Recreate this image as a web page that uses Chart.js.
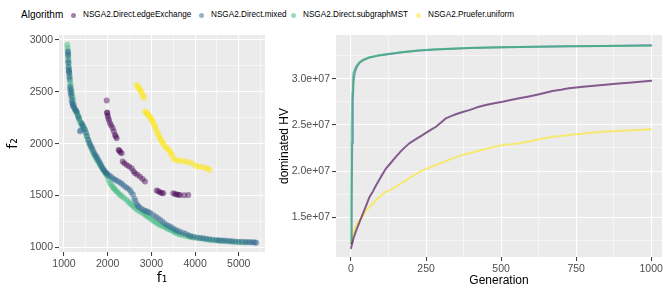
<!DOCTYPE html>
<html>
<head>
<meta charset="utf-8">
<script src="https://cdn.jsdelivr.net/npm/chart.js@4/dist/chart.umd.min.js"></script>
<style>
  body { margin: 0; background: #fff; width: 663px; height: 295px; overflow: hidden; position: relative; font-family: "Liberation Sans", Arial, sans-serif; }
  canvas { position: absolute; }
  .leg { position: absolute; top: 8px; height: 14px; line-height: 14px; white-space: nowrap; color: #000; }
  .legtitle { font-size: 10px; }
  .legtxt { font-size: 8.2px; }
  .dot { position: absolute; top: 12.5px; width: 5px; height: 5px; border-radius: 50%; }
</style>
</head>
<body>
<div class="leg legtitle" style="left:21px">Algorithm</div>
<div id="legend"></div>
<canvas id="front" width="272" height="267" style="left:0;top:28px"></canvas>
<canvas id="hv" width="391" height="267" style="left:272px;top:28px"></canvas>
<script>
// tên thuật toán (legend)
const algorithms = ["NSGA2.Direct.edgeExchange", "NSGA2.Direct.mixed", "NSGA2.Direct.subgraphMST", "NSGA2.Pruefer.uniform"];
const colors = ["68,1,84", "49,104,142", "53,183,121", "253,231,37"];

// mặt Pareto: f1 / f2 cho từng thuật toán
const edgeF1 = [1977, 1985, 1991, 2000, 2015, 2030, 2053, 2080, 2114, 2140, 2167, 2185, 2206, 2250, 2266, 2290, 2320, 2343, 2380, 2435, 2490, 2549, 2590, 2625, 2680, 2739, 2800, 2854, 3121, 3160, 3200, 3240, 3272, 3501, 3540, 3580, 3620, 3654, 3750, 3844];
const edgeF2 = [2416, 2300, 2295, 2270, 2247, 2225, 2198, 2175, 2150, 2120, 2085, 2070, 2053, 1940, 1933, 1918, 1908, 1827, 1810, 1795, 1780, 1763, 1735, 1715, 1700, 1682, 1660, 1634, 1547, 1540, 1530, 1525, 1522, 1522, 1515, 1510, 1508, 1505, 1503, 1505];

const mixedF1 = [1090, 1093, 1095, 1098, 1100, 1105, 1110, 1115, 1121, 1125, 1130, 1137, 1143, 1150, 1158, 1165, 1176, 1185, 1195, 1205, 1213, 1235, 1260, 1280, 1300, 1327, 1345, 1366, 1380, 1400, 1420, 1442, 1470, 1500, 1530, 1556, 1580, 1600, 1625, 1650, 1675, 1700, 1725, 1750, 1775, 1800, 1825, 1850, 1875, 1900, 1925, 1950, 1975, 2000, 2040, 2080, 2120, 2160, 2200, 2243, 2290, 2330, 2370, 2420, 2460, 2510, 2540, 2580, 2610, 2630, 2664, 2690, 2720, 2770, 2815, 2860, 2900, 2940, 2980, 3044, 3100, 3150, 3200, 3250, 3300, 3350, 3400, 3450, 3500, 3550, 3600, 3654, 3720, 3780, 3840, 3900, 3970, 4050, 4120, 4188, 4260, 4330, 4400, 4480, 4540, 4600, 4660, 4723, 4790, 4850, 4920, 5000, 5070, 5150, 5200, 5250, 5290, 5332, 5370, 5400];
const mixedF2 = [2890, 2870, 2850, 2800, 2778, 2740, 2710, 2695, 2681, 2650, 2620, 2552, 2525, 2500, 2480, 2460, 2423, 2400, 2385, 2370, 2358, 2345, 2330, 2315, 2300, 2262, 2240, 2117, 2130, 2200, 2185, 2165, 2140, 2110, 2075, 2037, 2010, 1990, 1970, 1950, 1925, 1900, 1885, 1870, 1850, 1830, 1810, 1790, 1770, 1750, 1738, 1725, 1715, 1705, 1690, 1680, 1665, 1655, 1645, 1634, 1622, 1610, 1595, 1580, 1568, 1554, 1530, 1510, 1470, 1450, 1420, 1400, 1390, 1375, 1360, 1352, 1345, 1338, 1330, 1312, 1295, 1280, 1265, 1250, 1232, 1215, 1205, 1195, 1182, 1170, 1160, 1150, 1140, 1130, 1120, 1110, 1102, 1095, 1090, 1087, 1082, 1078, 1074, 1070, 1068, 1066, 1065, 1064, 1060, 1058, 1056, 1055, 1053, 1052, 1051, 1050, 1049, 1048, 1046, 1044];

const mstF1 = [1076, 1082, 1090, 1095, 1100, 1105, 1110, 1115, 1120, 1130, 1140, 1150, 1160, 1172, 1185, 1198, 1213, 1232, 1252, 1270, 1290, 1310, 1330, 1350, 1370, 1395, 1420, 1450, 1481, 1500, 1519, 1550, 1580, 1610, 1640, 1670, 1700, 1730, 1760, 1790, 1820, 1850, 1880, 1910, 1940, 1970, 2000, 2025, 2053, 2090, 2120, 2150, 2180, 2215, 2250, 2290, 2330, 2380, 2435, 2480, 2520, 2560, 2600, 2650, 2700, 2760, 2815, 2860, 2900, 2950, 3000, 3050, 3100, 3150, 3197, 3250, 3300, 3350, 3400, 3450, 3500, 3540, 3579, 3640, 3700, 3780, 3850, 3900, 3950, 4030, 4112, 4180, 4250, 4320, 4400, 4480, 4550, 4620, 4700, 4780, 4850, 4920, 5000, 5080, 5150];
const mstF2 = [2955, 2920, 2890, 2850, 2820, 2780, 2740, 2710, 2680, 2640, 2600, 2570, 2540, 2515, 2488, 2450, 2420, 2375, 2327, 2315, 2300, 2280, 2260, 2235, 2210, 2190, 2170, 2150, 2133, 2100, 2069, 2035, 2000, 1970, 1940, 1912, 1885, 1862, 1840, 1820, 1800, 1780, 1760, 1740, 1720, 1700, 1680, 1650, 1618, 1598, 1580, 1565, 1550, 1535, 1520, 1505, 1490, 1475, 1457, 1438, 1420, 1405, 1390, 1372, 1355, 1340, 1328, 1315, 1300, 1285, 1270, 1255, 1240, 1228, 1215, 1205, 1195, 1185, 1175, 1165, 1155, 1145, 1135, 1125, 1118, 1110, 1105, 1100, 1095, 1091, 1087, 1082, 1078, 1074, 1070, 1067, 1064, 1061, 1058, 1056, 1054, 1052, 1050, 1048, 1047];

const prueF1 = [2664, 2680, 2700, 2720, 2739, 2760, 2780, 2800, 2815, 2830, 2854, 2870, 2890, 2910, 2930, 2950, 2970, 2990, 3007, 3025, 3045, 3065, 3083, 3100, 3120, 3140, 3158, 3180, 3200, 3220, 3236, 3260, 3280, 3311, 3340, 3370, 3400, 3426, 3450, 3470, 3501, 3540, 3580, 3630, 3693, 3750, 3800, 3860, 3922, 3980, 4036, 4090, 4150, 4210, 4264, 4300, 4341];
const prueF2 = [2568, 2555, 2545, 2530, 2520, 2505, 2490, 2470, 2455, 2440, 2310, 2302, 2295, 2285, 2278, 2265, 2255, 2242, 2230, 2215, 2200, 2183, 2165, 2145, 2125, 2105, 2085, 2068, 2050, 2035, 2020, 2008, 1995, 1972, 1960, 1950, 1937, 1924, 1905, 1890, 1860, 1848, 1840, 1836, 1834, 1830, 1825, 1820, 1812, 1800, 1779, 1778, 1775, 1770, 1763, 1755, 1747];

// hypervolume theo thế hệ
const edgeGen = [0, 8, 18, 30, 40, 52, 62, 73, 84, 100, 117, 133, 150, 172, 194, 216, 238, 260, 283, 300, 316, 333, 349, 372, 394, 420, 449, 477, 505, 532, 560, 588, 616, 644, 671, 699, 726, 782, 838, 882, 926, 963, 1000];
const edgeHV = [1.164e7, 1.27e7, 1.363e7, 1.46e7, 1.543e7, 1.64e7, 1.723e7, 1.78e7, 1.85e7, 1.94e7, 2.03e7, 2.09e7, 2.156e7, 2.235e7, 2.30e7, 2.345e7, 2.39e7, 2.435e7, 2.48e7, 2.525e7, 2.571e7, 2.595e7, 2.615e7, 2.64e7, 2.66e7, 2.69e7, 2.715e7, 2.735e7, 2.751e7, 2.77e7, 2.788e7, 2.805e7, 2.824e7, 2.845e7, 2.867e7, 2.88e7, 2.896e7, 2.915e7, 2.932e7, 2.945e7, 2.957e7, 2.968e7, 2.978e7];

const mixedGen = [0, 2, 4, 6, 8, 12, 18, 28, 40, 62, 90, 117, 172, 230, 283, 394, 505, 616, 727, 838, 1000];
const mixedHV = [1.22e7, 1.6e7, 2.3e7, 2.75e7, 2.95e7, 3.06e7, 3.12e7, 3.17e7, 3.20e7, 3.23e7, 3.25e7, 3.262e7, 3.287e7, 3.305e7, 3.316e7, 3.331e7, 3.34e7, 3.346e7, 3.35e7, 3.355e7, 3.362e7];

const mstGen = [0, 1, 2, 4, 6, 8, 12, 18, 28, 40, 62, 90, 117, 172, 230, 283, 394, 505, 616, 727, 838, 1000];
const mstHV = [1.254e7, 1.5e7, 2.4e7, 2.85e7, 3.0e7, 3.06e7, 3.1e7, 3.14e7, 3.18e7, 3.205e7, 3.232e7, 3.252e7, 3.265e7, 3.29e7, 3.307e7, 3.318e7, 3.332e7, 3.34e7, 3.346e7, 3.35e7, 3.354e7, 3.357e7];

const prueGen = [0, 6, 13, 20, 30, 40, 52, 67, 84, 100, 117, 133, 150, 167, 183, 205, 227, 255, 283, 310, 338, 366, 394, 420, 449, 477, 505, 532, 560, 588, 616, 644, 671, 699, 726, 782, 838, 920, 1000];
const prueHV = [1.22e7, 1.31e7, 1.381e7, 1.43e7, 1.47e7, 1.52e7, 1.579e7, 1.63e7, 1.687e7, 1.735e7, 1.777e7, 1.8e7, 1.831e7, 1.87e7, 1.90e7, 1.945e7, 1.99e7, 2.03e7, 2.066e7, 2.1e7, 2.138e7, 2.17e7, 2.193e7, 2.215e7, 2.24e7, 2.262e7, 2.283e7, 2.29e7, 2.30e7, 2.318e7, 2.336e7, 2.355e7, 2.372e7, 2.38e7, 2.39e7, 2.41e7, 2.427e7, 2.44e7, 2.452e7];

// legend vẽ bằng HTML
const legendX = [73, 201, 293, 418];
const legendEl = document.getElementById("legend");
algorithms.forEach((name, i) => {
  const d = document.createElement("div");
  d.className = "dot";
  d.style.left = (legendX[i] - 2.5) + "px";
  d.style.background = "rgba(" + colors[i] + ",0.5)";
  legendEl.appendChild(d);
  const t = document.createElement("div");
  t.className = "leg legtxt";
  t.style.left = (legendX[i] + 10) + "px";
  t.textContent = name;
  legendEl.appendChild(t);
});

// nền xám cho vùng vẽ (giống ggplot)
const panelBg = {
  id: "panelBg",
  beforeDraw(chart) {
    const { ctx, chartArea: a } = chart;
    ctx.save();
    ctx.fillStyle = "#EBEBEB";
    ctx.fillRect(a.left, a.top, a.right - a.left, a.bottom - a.top);
    ctx.restore();
  },
};

const tickFont = { family: "Liberation Sans, Arial", size: 10.5 };
const titleFont = { family: "Liberation Sans, Arial", size: 12 };
const fFont = { family: "DejaVu Sans, Liberation Sans", size: 14 };

// trục kiểu ggplot: lưới chính + lưới phụ
function ggAxis(min, max, step, fmt, extra) {
  const isMajor = (v) => Math.abs(v / step - Math.round(v / step)) < 1e-6;
  return Object.assign({
    type: "linear",
    min: min,
    max: max,
    afterBuildTicks(scale) {
      const ticks = [];
      const half = step / 2;
      for (let v = Math.ceil(min / half) * half; v <= max; v += half) ticks.push({ value: v });
      scale.ticks = ticks;
    },
    ticks: {
      autoSkip: false,
      maxRotation: 0,
      color: "#4D4D4D",
      font: tickFont,
      padding: 2,
      callback: (v) => (isMajor(v) ? fmt(v) : ""),
    },
    grid: {
      color: "#FFFFFF",
      lineWidth: (c) => (c.tick && isMajor(c.tick.value) ? 1.1 : 0.5),
      tickLength: 4,
      tickWidth: 1,
      tickColor: (c) => (c.tick && isMajor(c.tick.value) ? "#333333" : "rgba(0,0,0,0)"),
    },
    border: { display: false },
  }, extra);
}

function fixY(w) {
  return (s) => { s.width = w; s.paddingTop = 0; s.paddingBottom = 0; };
}
function fixX(h) {
  return (s) => { s.height = h; s.paddingLeft = 0; s.paddingRight = 0; };
}

function pts(xs, ys) {
  return xs.map((x, i) => ({ x: x, y: ys[i] }));
}

// biểu đồ trái: mặt Pareto
new Chart(document.getElementById("front"), {
  type: "scatter",
  data: {
    datasets: [
      [edgeF1, edgeF2], [mixedF1, mixedF2], [mstF1, mstF2], [prueF1, prueF2],
    ].map((s, i) => ({
      label: algorithms[i],
      data: pts(s[0], s[1]),
      backgroundColor: "rgba(" + colors[i] + ",0.45)",
      borderWidth: 0,
      pointRadius: 3,
      order: i === 1 ? 0 : i + 1,
    })),
  },
  options: {
    responsive: false,
    animation: false,
    layout: { padding: { top: 7, right: 7, left: 0, bottom: 0 } },
    plugins: { legend: { display: false }, tooltip: { enabled: false } },
    scales: {
      x: ggAxis(886, 5600, 1000, (v) => String(v), {
        afterFit: fixX(43),
        title: { display: true, text: "f\u2081", color: "#000", font: fFont, padding: { top: 0, bottom: 8 } },
      }),
      y: ggAxis(955, 3048, 500, (v) => String(v), {
        afterFit: fixY(59),
        title: { display: true, text: "f\u2082", color: "#000", font: fFont, padding: { top: 5, bottom: 0 } },
      }),
    },
  },
  plugins: [panelBg],
});

// biểu đồ phải: dominated HV theo Generation
new Chart(document.getElementById("hv"), {
  type: "line",
  data: {
    datasets: [
      [edgeGen, edgeHV], [mixedGen, mixedHV], [mstGen, mstHV], [prueGen, prueHV],
    ].map((s, i) => ({
      label: algorithms[i],
      data: pts(s[0], s[1]),
      borderColor: "rgba(" + colors[i] + ",0.62)",
      borderWidth: 2,
      pointRadius: 0,
      tension: 0,
      fill: false,
      borderJoinStyle: "round",
      borderCapStyle: "round",
      order: i === 2 ? 0 : i + 1,
    })),
  },
  options: {
    responsive: false,
    animation: false,
    layout: { padding: { top: 7, right: 1, left: 0, bottom: 0 } },
    plugins: { legend: { display: false }, tooltip: { enabled: false } },
    scales: {
      x: ggAxis(-50, 1036, 250, (v) => String(v), {
        afterFit: fixX(38),
        title: { display: true, text: "Generation", color: "#000", font: titleFont, padding: { top: 0, bottom: 7 } },
      }),
      y: ggAxis(1.07e7, 3.473e7, 0.5e7, (v) => (v / 1e7).toFixed(1) + "e+07", {
        afterFit: fixY(64),
        title: { display: true, text: "dominated HV", color: "#000", font: titleFont, padding: { top: 5, bottom: 0 } },
      }),
    },
  },
  plugins: [panelBg],
});
</script>
</body>
</html>
